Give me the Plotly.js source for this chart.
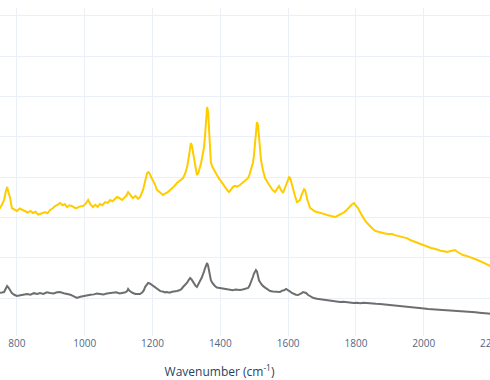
<!DOCTYPE html>
<html>
<head>
<meta charset="utf-8">
<script src="https://cdn.plot.ly/plotly-3.0.1.min.js"></script>
<style>
html,body{margin:0;padding:0;overflow:hidden;width:490px;height:380px;background:#fff;}
#chart{position:absolute;left:-70px;top:0;}
</style>
</head>
<body>
<div id="chart"></div>
<script>
// Wavenumber (cm^-1) and intensity values
const wnYellow = [740,750,756,762,767,771,775,780,785,792,800,808,816,824,832,840,847,855,862,868,876,883,890,898,905,912,920,927,935,941,948,955,962,970,977,986,995,1003,1010,1017,1024,1031,1038,1045,1052,1060,1068,1075,1082,1088,1095,1102,1110,1117,1123,1128,1135,1142,1150,1157,1163,1168,1172,1177,1181,1184,1188,1192,1197,1201,1207,1213,1220,1226,1231,1237,1244,1252,1258,1265,1272,1279,1285,1290,1296,1302,1308,1313,1316,1319,1322,1325,1328,1331,1335,1340,1343,1346,1349,1352,1355,1358,1361,1364,1367,1370,1372,1376,1381,1385,1390,1395,1400,1404,1408,1413,1418,1422,1426,1431,1437,1443,1449,1458,1465,1471,1477,1482,1486,1490,1493,1496,1499,1502,1505,1508,1511,1514,1517,1520,1526,1532,1540,1547,1554,1561,1567,1573,1579,1585,1591,1597,1600,1603,1606,1608,1611,1614,1620,1626,1631,1635,1639,1644,1647,1650,1653,1658,1665,1672,1678,1685,1692,1700,1708,1715,1723,1730,1738,1746,1754,1762,1770,1776,1782,1788,1794,1800,1806,1814,1821,1827,1833,1841,1850,1858,1866,1877,1886,1896,1906,1915,1926,1936,1944,1952,1960,1968,1975,1983,1992,2003,2013,2022,2032,2042,2050,2060,2069,2077,2085,2092,2100,2108,2116,2124,2132,2145,2153,2162,2175,2185,2196,2210,2225,2240];
const yellow = [16300,16160,16600,17150,18200,18760,18100,17400,16160,15950,15790,16100,15910,15750,15600,15800,15540,15700,15350,15420,15600,15660,15500,15910,16100,16410,16550,16780,16500,16650,16280,16500,16410,16200,16160,16350,16410,16700,17150,16600,16280,16550,16300,16660,16500,16900,16800,17150,17000,17300,17520,17400,17150,17450,17700,18140,17800,17400,17650,17300,17520,17900,18390,19300,20000,20500,20620,20400,19900,19630,19100,18390,18100,17900,17770,17950,18100,18390,18600,18900,19260,19500,19700,19880,20400,21240,22730,24220,23900,23100,22300,21490,20800,20250,20500,21120,21700,22360,23000,23720,25200,27070,28680,28060,25210,23200,21860,21300,20870,20600,20250,19900,19600,19300,19010,18700,18450,18300,18140,18400,18760,18900,18800,19010,19250,19500,19700,19880,20300,20870,21300,21740,22600,23970,25830,26820,26450,24590,23200,22110,20800,19880,19300,18760,18400,18140,18500,18890,18400,18020,18700,19380,19700,20000,19900,19630,19200,18640,17700,16900,17000,17150,17700,18390,18500,18390,17770,17000,16160,15900,15750,15660,15600,15540,15400,15290,15200,15100,15040,15200,15350,15540,15800,16100,16410,16600,16780,16500,16160,15500,14920,14600,14300,13900,13560,13300,13200,13060,13000,12940,12940,12800,12700,12560,12500,12400,12190,12050,11950,11820,11700,11500,11320,11200,11100,10950,10850,10800,10700,10800,10900,10950,10700,10500,10330,10250,10150,9960,9800,9650,9340,9200,8970,8800,8470,8200];

const wnGray = [740,750,756,762,767,771,775,780,785,792,800,810,820,830,840,850,860,868,878,888,898,908,918,927,938,948,958,968,977,987,997,1007,1017,1027,1036,1045,1055,1065,1075,1083,1093,1103,1113,1120,1125,1128,1132,1137,1142,1150,1157,1163,1170,1175,1178,1183,1187,1192,1198,1205,1211,1216,1223,1230,1237,1243,1250,1258,1265,1272,1279,1285,1290,1296,1302,1307,1311,1315,1319,1323,1327,1331,1336,1340,1345,1349,1352,1355,1358,1361,1364,1367,1370,1372,1376,1380,1384,1390,1399,1407,1414,1422,1429,1437,1444,1451,1458,1466,1474,1482,1486,1490,1493,1496,1499,1502,1505,1508,1511,1514,1517,1520,1523,1530,1538,1547,1555,1563,1570,1576,1582,1588,1594,1600,1606,1611,1617,1623,1629,1635,1640,1644,1648,1653,1658,1665,1675,1685,1694,1703,1713,1723,1733,1743,1753,1763,1773,1783,1793,1803,1813,1823,1835,1847,1859,1871,1883,1895,1906,1918,1930,1942,1954,1966,1978,1989,2001,2013,2025,2036,2048,2060,2072,2084,2096,2107,2119,2131,2142,2153,2164,2175,2186,2196,2210,2225,2240];
const gray = [5620,5620,5680,5740,6100,6490,6300,6000,5620,5400,5250,5350,5450,5500,5400,5600,5500,5620,5500,5700,5620,5550,5700,5740,5600,5500,5400,5200,5000,5150,5250,5370,5400,5450,5550,5500,5450,5550,5620,5620,5700,5550,5620,5700,5850,6120,5900,5700,5620,5500,5450,5500,5700,6000,6360,6700,6860,6800,6610,6400,6150,5990,5850,5800,5700,5740,5650,5780,5800,5870,5950,6100,6360,6600,6900,7250,7480,7300,6980,6700,6500,6360,6700,7100,7500,7850,8300,8720,9100,9340,9000,8220,7700,7230,6900,6650,6490,6300,6240,6100,6050,6000,5990,5950,6050,5990,6000,6050,6150,6240,6500,6860,7200,7600,8000,8300,8470,8300,7600,7200,6980,6750,6610,6350,6100,5870,5800,5780,5700,5740,5900,5950,6120,6000,5800,5620,5500,5400,5370,5450,5600,5740,5650,5620,5400,5200,5000,4900,4850,4750,4700,4650,4600,4550,4500,4520,4450,4420,4380,4400,4350,4400,4330,4300,4280,4260,4200,4150,4100,4060,4010,3950,3900,3880,3800,3760,3700,3650,3620,3560,3510,3480,3450,3420,3400,3390,3330,3300,3250,3220,3180,3140,3150,3140,3050,2950,2890];

const xTickVals = [800,1000,1200,1400,1600,1800,2000,2200];

const traces = [
  {x: wnYellow, y: yellow, type: 'scatter', mode: 'lines', line: {color: '#FFCC00', width: 2}, hoverinfo: 'skip'},
  {x: wnGray, y: gray, type: 'scatter', mode: 'lines', line: {color: '#6e6e6e', width: 2}, hoverinfo: 'skip'}
];

const layout = {
  width: 579, height: 380,
  margin: {l: 0, r: 0, t: 8, b: 44, pad: 0},
  paper_bgcolor: '#ffffff', plot_bgcolor: '#ffffff',
  showlegend: false,
  font: {family: '"Open Sans", sans-serif', color: '#506784'},
  xaxis: {
    range: [543.5, 2251.6],
    tickvals: xTickVals,
    ticktext: xTickVals.map(String),
    showgrid: true, gridcolor: '#EBF0F8', gridwidth: 1,
    zeroline: false, showline: false, ticks: '',
    automargin: false,
    tickfont: {size: 10, color: '#506784'},
    title: {text: 'Wavenumber (cm<sup>-1</sup>)', font: {size: 12, color: '#2a3f5f'}, standoff: 20}
  },
  yaxis: {
    range: [288, 40960],
    tick0: 0, dtick: 5000,
    showgrid: true, gridcolor: '#EBF0F8', gridwidth: 1,
    zeroline: false, showline: false, ticks: '',
    automargin: false,
    showticklabels: false
  }
};

Plotly.newPlot('chart', traces, layout, {displayModeBar: false, staticPlot: true});
</script>
</body>
</html>
